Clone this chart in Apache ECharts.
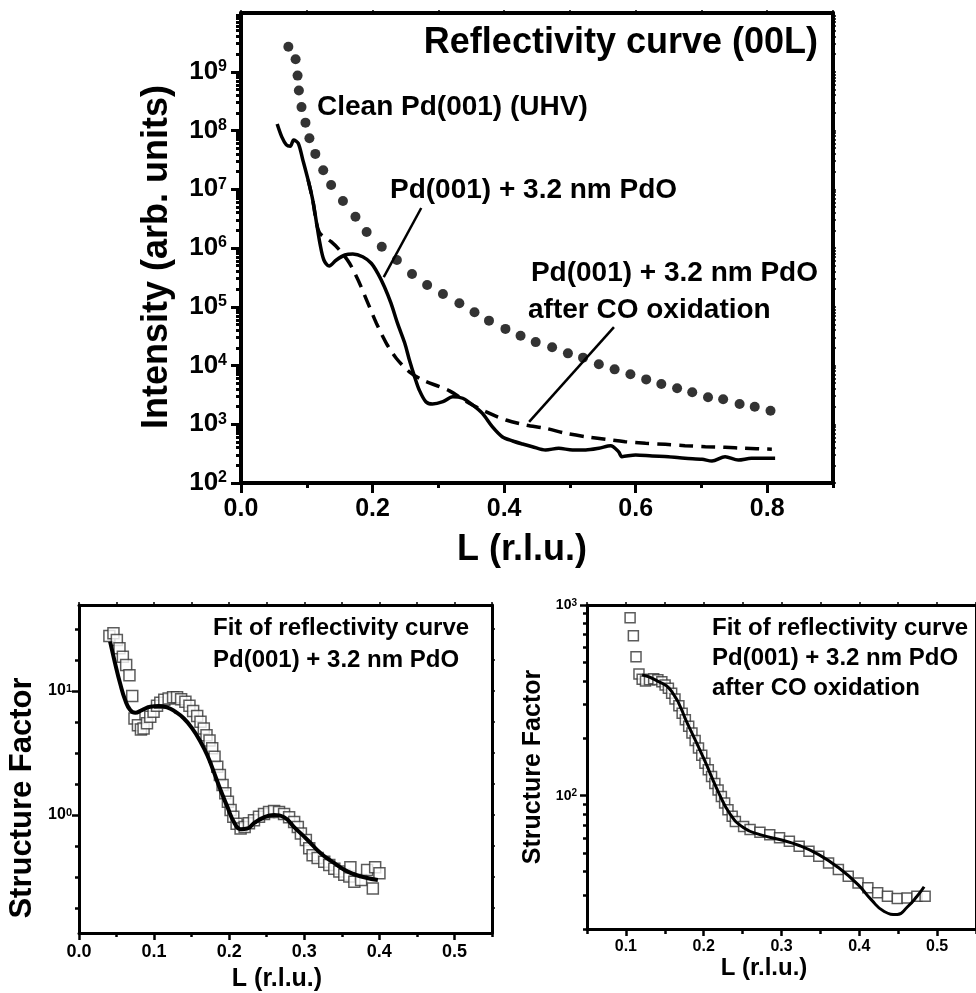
<!DOCTYPE html>
<html>
<head>
<meta charset="utf-8">
<title>Reflectivity curve (00L)</title>
<script src="https://cdn.jsdelivr.net/npm/echarts@6.0.0/dist/echarts.min.js"></script>
<style>
  html, body { margin: 0; padding: 0; background: #fff; }
  #chart { width: 976px; height: 993px; }
</style>
</head>
<body>
<div id="chart"></div>
<script>
// top panel: reflectivity curves (00L)
const cleanL = [0.072, 0.083, 0.086, 0.088, 0.092, 0.098, 0.104, 0.113, 0.125, 0.137, 0.155, 0.174, 0.191, 0.214, 0.237, 0.260, 0.283, 0.307, 0.332, 0.355, 0.377, 0.402, 0.425, 0.448, 0.473, 0.497, 0.520, 0.544, 0.568, 0.592, 0.616, 0.639, 0.663, 0.686, 0.710, 0.733, 0.758, 0.781, 0.805]
const cleanI = [2.67e9, 1.63e9, 8.6e8, 4.8e8, 2.5e8, 1.36e8, 7.4e7, 4.0e7, 2.1e7, 1.18e7, 6.3e6, 3.4e6, 1.87e6, 1.05e6, 6.25e5, 3.6e5, 2.34e5, 1.65e5, 1.15e5, 8.05e4, 5.8e4, 4.2e4, 3.2e4, 2.5e4, 2.04e4, 1.61e4, 1.36e4, 1.05e4, 8.6e3, 7.1e3, 5.8e3, 4.84e3, 4.1e3, 3.5e3, 2.88e3, 2.66e3, 2.21e3, 1.99e3, 1.70e3]

const pdoL = [0.055, 0.062, 0.069, 0.075, 0.080, 0.087, 0.094, 0.102, 0.109, 0.115, 0.120, 0.126, 0.134, 0.145, 0.158, 0.170, 0.185, 0.198, 0.208, 0.218, 0.228, 0.238, 0.249, 0.256, 0.264, 0.271, 0.281, 0.291, 0.307, 0.322, 0.337, 0.352, 0.367, 0.382, 0.397, 0.413, 0.428, 0.443, 0.463, 0.483, 0.504, 0.524, 0.544, 0.562, 0.574, 0.579, 0.600, 0.625, 0.650, 0.675, 0.701, 0.716, 0.736, 0.756, 0.776, 0.797, 0.812]
const pdoI = [1.29e8, 7.8e7, 5.7e7, 5.4e7, 6.9e7, 6.05e7, 3.15e7, 1.44e7, 6.6e6, 2.6e6, 1.2e6, 6.25e5, 4.94e5, 6.25e5, 7.6e5, 7.9e5, 7.1e5, 5.5e5, 3.7e5, 2.19e5, 1.15e5, 5.2e4, 2.39e4, 1.24e4, 6.4e3, 3.83e3, 2.42e3, 2.21e3, 2.42e3, 2.94e3, 2.77e3, 2.13e3, 1.53e3, 908, 614, 519, 461, 415, 365, 390, 365, 365, 390, 431, 341, 281, 300, 288, 281, 263, 253, 237, 281, 246, 263, 263, 263]

const coL = [0.102, 0.109, 0.115, 0.120, 0.137, 0.150, 0.165, 0.178, 0.191, 0.206, 0.221, 0.236, 0.256, 0.276, 0.302, 0.317, 0.347, 0.372, 0.403, 0.433, 0.463, 0.494, 0.524, 0.554, 0.584, 0.615, 0.645, 0.675, 0.706, 0.736, 0.766, 0.807]
const coI = [1.44e7, 6.6e6, 2.6e6, 1.78e6, 1.28e6, 9.2e5, 5.5e5, 2.85e5, 1.30e5, 5.2e4, 2.39e4, 1.33e4, 7.8e3, 5.66e3, 4.35e3, 3.7e3, 2.28e3, 1.64e3, 1.18e3, 970, 853, 701, 614, 554, 505, 474, 456, 432, 415, 405, 390, 375]

// leader lines [L, I] from label to curve
const leaderPdo = [[0.274, 4.8e6], [0.217, 3.2e5]]
const leaderCo = [[0.567, 4.5e4], [0.438, 1.1e3]]

// bottom left: fit, Pd(001) + 3.2 nm PdO
const sqAL = [0.0405, 0.0459, 0.0504, 0.0539, 0.0584, 0.0628, 0.0672, 0.0709, 0.0739, 0.0785, 0.0825, 0.086, 0.0905, 0.0949, 0.0993, 0.1039, 0.1083, 0.1136, 0.1194, 0.1253, 0.1306, 0.136, 0.1417, 0.1471, 0.152, 0.1574, 0.1618, 0.1662, 0.1698, 0.1738, 0.1774, 0.1805, 0.1841, 0.1876, 0.1912, 0.1948, 0.1983, 0.2019, 0.2055, 0.2099, 0.2152, 0.2206, 0.2263, 0.233, 0.2397, 0.2464, 0.2531, 0.2598, 0.2664, 0.2731, 0.2798, 0.2865, 0.2914, 0.2955, 0.3021, 0.3066, 0.3111, 0.3178, 0.3266, 0.3333, 0.34, 0.3467, 0.3533, 0.36, 0.3614, 0.3667, 0.3757, 0.3837, 0.3913, 0.3944, 0.4001]
const sqAF = [27.8, 29.2, 25.8, 22.1, 18.9, 16.2, 13.4, 9.1, 6.0, 5.3, 4.9, 5.0, 5.5, 6.2, 6.8, 7.6, 8.05, 8.5, 8.7, 8.9, 8.9, 8.6, 8.2, 7.6, 6.9, 6.3, 5.65, 5.0, 4.4, 4.0, 3.45, 2.95, 2.45, 2.1, 1.75, 1.5, 1.28, 1.1, 0.97, 0.85, 0.78, 0.80, 0.86, 0.91, 0.97, 1.02, 1.06, 1.08, 1.06, 1.02, 0.96, 0.88, 0.80, 0.71, 0.63, 0.54, 0.475, 0.45, 0.42, 0.395, 0.37, 0.35, 0.33, 0.32, 0.38, 0.29, 0.30, 0.36, 0.256, 0.38, 0.34]
const fitAL = [0.0414, 0.0481, 0.0548, 0.0615, 0.0682, 0.0749, 0.0838, 0.0949, 0.106, 0.1172, 0.1283, 0.1394, 0.1507, 0.1618, 0.1707, 0.1795, 0.1885, 0.1975, 0.2063, 0.2152, 0.2242, 0.233, 0.2464, 0.2598, 0.2731, 0.2865, 0.3044, 0.3222, 0.34, 0.3579, 0.3757, 0.398]
const fitAF = [25, 16.7, 11.5, 8.46, 7.03, 6.68, 7.03, 7.47, 7.57, 7.39, 6.81, 6.03, 5.0, 3.9, 3.05, 2.23, 1.59, 1.17, 0.88, 0.77, 0.78, 0.86, 0.96, 1.0, 0.96, 0.80, 0.63, 0.49, 0.41, 0.35, 0.32, 0.30]

// bottom right: fit, after CO oxidation
const sqBL = [0.1054, 0.1096, 0.113, 0.1168, 0.1209, 0.1252, 0.1303, 0.1357, 0.1411, 0.1462, 0.1504, 0.1546, 0.1588, 0.1631, 0.1681, 0.1723, 0.1764, 0.1807, 0.1849, 0.189, 0.1933, 0.1975, 0.2016, 0.2059, 0.2101, 0.2143, 0.2185, 0.2227, 0.2269, 0.2312, 0.2366, 0.2407, 0.2513, 0.2596, 0.2723, 0.2849, 0.2975, 0.3101, 0.3227, 0.3353, 0.3479, 0.3605, 0.3731, 0.3858, 0.3984, 0.411, 0.4236, 0.4362, 0.4488, 0.4614, 0.474, 0.4846]
const sqBF = [858, 689, 536, 435, 408, 400, 405, 410, 405, 396, 381, 366, 345, 321, 296, 271, 250, 231, 213, 195, 178, 163, 148, 137, 126, 116, 107, 99, 91.5, 84.5, 78, 73.3, 69, 66.4, 64.3, 62.5, 60.1, 57.7, 54.3, 51.1, 48.1, 44.4, 41, 37.8, 34.9, 32.9, 31, 29.7, 28.9, 29.1, 29.7, 29.7]
const fitBL = [0.1209, 0.1378, 0.1588, 0.1799, 0.2009, 0.2177, 0.2344, 0.2513, 0.2723, 0.2975, 0.3227, 0.3479, 0.3731, 0.3984, 0.4153, 0.432, 0.4488, 0.4614, 0.474, 0.4833]
const fitBF = [430, 405, 352, 235, 154, 107, 79.6, 68, 62.5, 58.9, 54.8, 49.1, 42, 34.2, 28.5, 24.7, 23.8, 26, 29.6, 33.3]

// tick labels
const topXTicks = [0, 0.2, 0.4, 0.6, 0.8]
const topXMinor = [0.1, 0.3, 0.5, 0.7, 0.9]
const topYTicks = [1e2, 1e3, 1e4, 1e5, 1e6, 1e7, 1e8, 1e9]
const blXTicks = [0, 0.1, 0.2, 0.3, 0.4, 0.5]
const blXMinor = [0.05, 0.15, 0.25, 0.35, 0.45, 0.55]
const blYTicks = [1, 10]
const brXTicks = [0.1, 0.2, 0.3, 0.4, 0.5]
const brXMinor = [0.05, 0.15, 0.25, 0.35, 0.45, 0.55]
const brYTicks = [100, 1000]

const FONT = 'Liberation Sans'

function zip(xs, ys) {
  return xs.map((x, i) => [x, ys[i]])
}

// minor ticks at 2..9 of every decade
function decadeMinor(e0, e1) {
  const out = []
  for (let e = e0; e <= e1; e++) {
    for (let k = 2; k <= 9; k++) out.push(k * Math.pow(10, e))
  }
  return out
}

// quarter decade minor ticks (left fit panel)
function quarterMinor(e0, e1) {
  const out = []
  for (let e = e0; e <= e1; e++) {
    for (let q = 1; q <= 3; q++) out.push(Math.pow(10, e + q / 4))
  }
  return out
}

function txt(size) {
  return { color: '#000', fontFamily: FONT, fontWeight: 'bold', fontSize: size }
}

// three x axes per grid: labelled bottom, minor ticks, mirrored top
function makeX(g, c) {
  return [
    {
      type: 'value', gridIndex: g, min: c.min, max: c.max, position: 'bottom',
      axisLine: { show: true, onZero: false, lineStyle: { color: '#000', width: c.lw } },
      axisTick: { show: true, length: c.majLen, customValues: c.major, lineStyle: { color: '#000', width: c.tw } },
      axisLabel: Object.assign({ customValues: c.major, margin: c.margin, formatter: v => v.toFixed(1) }, txt(c.fs)),
      splitLine: { show: false },
      name: c.name, nameLocation: 'middle', nameGap: c.nameGap,
      nameTextStyle: Object.assign({ padding: c.namePad }, txt(c.nameFs))
    },
    {
      type: 'value', gridIndex: g, min: c.min, max: c.max, position: 'bottom',
      axisLine: { show: false, onZero: false },
      axisTick: { show: true, length: c.minLen, customValues: c.minor, lineStyle: { color: '#000', width: c.tw } },
      axisLabel: { show: false }, splitLine: { show: false }
    },
    {
      type: 'value', gridIndex: g, min: c.min, max: c.max, position: 'top',
      axisLine: { show: true, onZero: false, lineStyle: { color: '#000', width: c.lw } },
      axisTick: { show: true, length: 3, customValues: c.major.concat(c.minor), lineStyle: { color: '#000', width: 1.5 } },
      axisLabel: { show: false }, splitLine: { show: false }
    }
  ]
}

function makeY(g, c) {
  const rich = {
    b: txt(c.fs),
    s: Object.assign({ verticalAlign: 'top' }, txt(c.supFs))
  }
  return [
    {
      type: 'log', logBase: 10, gridIndex: g, min: c.min, max: c.max, position: 'left',
      axisLine: { show: true, onZero: false, lineStyle: { color: '#000', width: c.lw } },
      axisTick: { show: true, length: c.majLen, customValues: c.major, lineStyle: { color: '#000', width: c.tw } },
      axisLabel: {
        customValues: c.major, margin: c.margin,
        formatter: v => '{b|10}{s|' + Math.round(Math.log10(v)) + '}',
        rich: rich
      },
      splitLine: { show: false },
      name: c.name, nameLocation: 'middle', nameGap: c.nameGap,
      nameTextStyle: Object.assign({ padding: c.namePad }, txt(c.nameFs))
    },
    {
      type: 'log', logBase: 10, gridIndex: g, min: c.min, max: c.max, position: 'left',
      axisLine: { show: false, onZero: false },
      axisTick: { show: true, length: c.minLen, customValues: c.minor, lineStyle: { color: '#000', width: c.tw } },
      axisLabel: { show: false }, splitLine: { show: false }
    },
    {
      type: 'log', logBase: 10, gridIndex: g, min: c.min, max: c.max, position: 'right',
      axisLine: { show: true, onZero: false, lineStyle: { color: '#000', width: c.lw } },
      axisTick: { show: true, length: 3, customValues: c.major.concat(c.minor), lineStyle: { color: '#000', width: 1.5 } },
      axisLabel: { show: false }, splitLine: { show: false }
    }
  ]
}

const chart = echarts.init(document.getElementById('chart'), null, { renderer: 'canvas' })

const xAxes = [].concat(
  makeX(0, { min: 0, max: 0.9, major: topXTicks, minor: topXMinor, lw: 4, tw: 3, majLen: 10, minLen: 5, margin: 14, fs: 25, name: 'L (r.l.u.)', nameFs: 36, nameGap: 49, namePad: [0, 30, 0, 0] }),
  makeX(1, { min: 0, max: 0.55, major: blXTicks, minor: blXMinor, lw: 3, tw: 2.5, majLen: 7, minLen: 4, margin: 10, fs: 18, name: 'L (r.l.u.)', nameFs: 25, nameGap: 34, namePad: [0, 17, 0, 0] }),
  makeX(2, { min: 0.05, max: 0.55, major: brXTicks, minor: brXMinor, lw: 3, tw: 2.5, majLen: 7, minLen: 5, margin: 10, fs: 16, name: 'L (r.l.u.)', nameFs: 24, nameGap: 25, namePad: [0, 35, 0, 0] })
)

const yAxes = [].concat(
  makeY(0, { min: 1e2, max: 1e10, major: topYTicks, minor: decadeMinor(2, 9), lw: 4, tw: 3, majLen: 10, minLen: 5, margin: 14, fs: 26, supFs: 16, name: 'Intensity (arb. units)', nameFs: 36, nameGap: 66, namePad: [0, 18, 0, 0] }),
  makeY(1, { min: 0.112, max: 49.4, major: blYTicks, minor: quarterMinor(-1, 1), lw: 3, tw: 2.5, majLen: 7, minLen: 4, margin: 7, fs: 16, supFs: 11, name: 'Structure Factor', nameFs: 31, nameGap: 41, namePad: [0, 58, 0, 0] }),
  makeY(2, { min: 20, max: 1000, major: brYTicks, minor: decadeMinor(1, 2), lw: 3, tw: 2.5, majLen: 7, minLen: 4, margin: 10, fs: 14, supFs: 10, name: 'Structure Factor', nameFs: 25, nameGap: 41, namePad: [0, 0, 0, 0] })
)

function label(x, y, text, size, align) {
  return {
    type: 'text', x: x, y: y, z: 100,
    style: {
      text: text, fill: '#000', font: 'bold ' + size + 'px "' + FONT + '"',
      textAlign: align, align: align, textVerticalAlign: 'middle', verticalAlign: 'middle'
    }
  }
}

const squareStyle = { color: '#fff', borderColor: '#333', borderWidth: 1.5 }

chart.setOption({
  animation: false,
  backgroundColor: '#fff',
  grid: [
    { left: 241, top: 13, width: 592, height: 470 },
    { left: 79, top: 605, width: 413, height: 328 },
    { left: 587, top: 605, width: 395, height: 324 }
  ],
  xAxis: xAxes,
  yAxis: yAxes,
  series: [
    {
      name: 'Clean Pd(001) (UHV)', type: 'scatter', xAxisIndex: 0, yAxisIndex: 0,
      symbol: 'circle', symbolSize: 10, itemStyle: { color: '#000' },
      data: zip(cleanL, cleanI)
    },
    {
      name: 'Pd(001) + 3.2 nm PdO after CO oxidation', type: 'line', xAxisIndex: 0, yAxisIndex: 0,
      showSymbol: false, smooth: 0.3,
      lineStyle: { color: '#000', width: 3.5, type: [14, 8] },
      data: zip(coL, coI)
    },
    {
      name: 'Pd(001) + 3.2 nm PdO', type: 'line', xAxisIndex: 0, yAxisIndex: 0,
      showSymbol: false, smooth: 0.3,
      lineStyle: { color: '#000', width: 3.5 },
      data: zip(pdoL, pdoI),
      markLine: {
        silent: true, symbol: ['none', 'none'], label: { show: false },
        lineStyle: { color: '#000', width: 2.5, type: 'solid' },
        data: [
          [{ coord: leaderPdo[0] }, { coord: leaderPdo[1] }],
          [{ coord: leaderCo[0] }, { coord: leaderCo[1] }]
        ]
      }
    },
    {
      name: 'data A', type: 'scatter', xAxisIndex: 3, yAxisIndex: 3,
      symbol: 'rect', symbolSize: 11, itemStyle: squareStyle,
      data: zip(sqAL, sqAF)
    },
    {
      name: 'fit A', type: 'line', xAxisIndex: 3, yAxisIndex: 3,
      showSymbol: false, smooth: true,
      lineStyle: { color: '#000', width: 4 },
      data: zip(fitAL, fitAF)
    },
    {
      name: 'data B', type: 'scatter', xAxisIndex: 6, yAxisIndex: 6,
      symbol: 'rect', symbolSize: 10, itemStyle: squareStyle,
      data: zip(sqBL, sqBF)
    },
    {
      name: 'fit B', type: 'line', xAxisIndex: 6, yAxisIndex: 6,
      showSymbol: false, smooth: true,
      lineStyle: { color: '#000', width: 3 },
      data: zip(fitBL, fitBF)
    }
  ],
  graphic: [
    label(818, 43, 'Reflectivity curve (00L)', 36, 'right'),
    label(317, 107, 'Clean Pd(001) (UHV)', 28, 'left'),
    label(390, 190, 'Pd(001) + 3.2 nm PdO', 28, 'left'),
    label(818, 273, 'Pd(001) + 3.2 nm PdO', 28, 'right'),
    label(528, 310, 'after CO oxidation', 28, 'left'),
    label(213, 628, 'Fit of reflectivity curve', 24, 'left'),
    label(213, 660, 'Pd(001) + 3.2 nm PdO', 24, 'left'),
    label(712, 628, 'Fit of reflectivity curve', 24, 'left'),
    label(712, 658, 'Pd(001) + 3.2 nm PdO', 24, 'left'),
    label(712, 688, 'after CO oxidation', 24, 'left')
  ]
})
</script>
</body>
</html>
